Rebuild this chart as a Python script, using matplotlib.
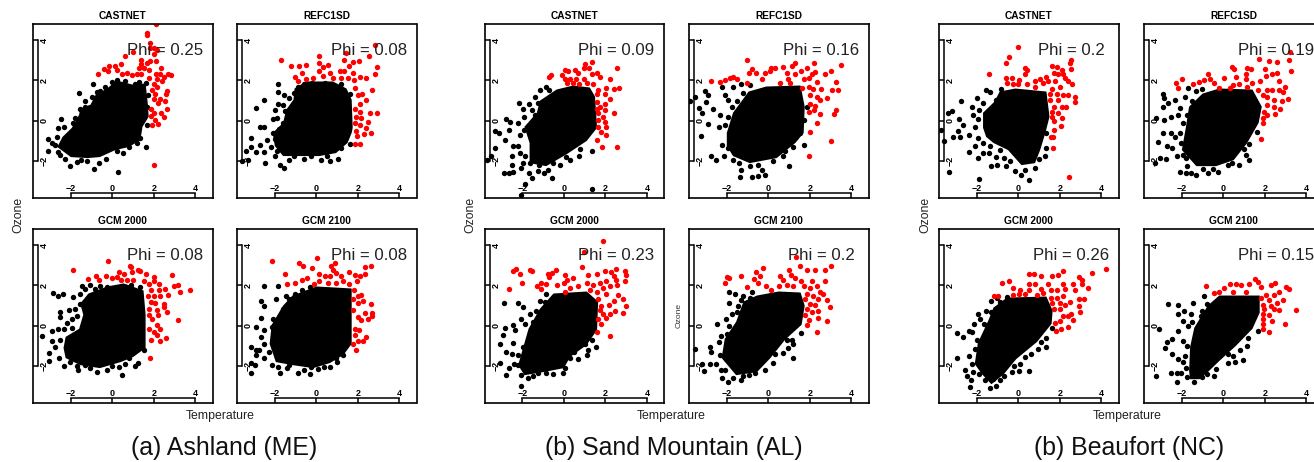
import matplotlib
matplotlib.use('Agg')
import matplotlib.pyplot as plt

plt.rcParams['font.family'] = ['Liberation Sans', 'DejaVu Sans']

W, H = 1314, 462

titles = ['CASTNET', 'REFC1SD', 'GCM 2000', 'GCM 2100']
captions = ['(a) Ashland (ME)', '(b) Sand Mountain (AL)', '(b) Beaufort (NC)']
ticks = [-2, 0, 2, 4]
phi_a = [0.25, 0.08, 0.08, 0.08]
phi_b = [0.09, 0.16, 0.23, 0.2]
phi_c = [0.2, 0.19, 0.26, 0.15]

# points. *_core is the outline of the solid black
# middle of each cloud, where single points can't be told apart any more
a1_red = [(2.1,4.8),(1.65,4.35),(1.67,4.25),(1.8,3.85),(1.8,3.6),(2.0,3.6),(2.15,3.5),(2.0,3.3),(0.6,3.2),(1.0,3.4),(1.4,3.0),(1.65,2.85),(1.8,2.95),(2.1,2.95),(1.4,2.8),(1.27,2.6),(1.5,2.6),(1.75,2.5),(2.35,2.6),(2.7,2.3),(2.8,2.25),(2.1,2.3),(2.3,2.3),(2.5,2.15),(2.15,2.05),(2.4,1.95),(-0.7,2.3),(-0.4,2.55),(-0.15,2.7),(-0.2,2.45),(0.15,2.7),(0.4,2.8),(0.2,2.5),(0.45,2.3),(0.7,2.35),(0.95,2.25),(1.2,2.3),(1.4,2.3),(1.75,2.1),(2.0,1.8),(2.15,1.7),(1.9,1.55),(2.05,1.35),(2.65,1.5),(2.6,1.35),(2,1.1),(2.3,1.1),(2.55,1),(2.2,0.9),(2.65,0.6),(1.85,0.6),(2.35,0.4),(2.5,0.2),(2,0.4),(1.85,0.25),(2.05,0.05),(1.9,-0.2),(2.2,-0.15),(2,-2.2)]
a1_black = [(-1.6,1.4),(-0.95,1.8),(-0.75,1.45),(-0.35,1.7),(0.2,2.0),(-1.55,0.6),(-1.3,0.7),(-2.45,0.1),(-1.8,0.15),(-2.6,-0.35),(-2.35,-0.3),(-3.1,-0.9),(-3.1,-1.5),(-2.65,-0.8),(-2.75,-1.2),(-2.6,-1.55),(-2.05,-2.25),(-1.7,-2.05),(-1.2,-2),(-0.65,-2.1),(-0.9,-2.4),(0.25,-2.55),(0.2,-1.5),(0.8,-1.3),(1.6,-1.3),(1.35,-0.85),(1.65,-0.2),(1.5,0.2),(1.65,0.7),(1.6,1.85),(1.1,1.8),(-2.9,-1.1),(-2.5,-1.7),(-2.3,-1.9),(-1.9,-0.1),(-1.3,1),(-1,1.2),(-0.6,1.5),(0,1.9),(0.6,1.95),(1.3,1.9),(1.7,1.3),(1.2,-1.1),(0.5,-1.6),(-0.3,-1.9),(-1.5,-1.95)]
a1_core = [(-2.65,-1.3),(-2.4,-0.8),(-1.95,-0.35),(-1.6,0.3),(-1.55,0.6),(-1.05,0.8),(-0.8,1.3),(-0.25,1.6),(0.2,2),(0.95,1.8),(1.6,1.85),(1.7,0.9),(1.75,0.2),(1.45,-0.3),(1.35,-0.95),(0.8,-1.3),(0.15,-1.45),(-0.6,-1.8),(-1.2,-1.85),(-2,-1.8)]

a2_red = [(2.8,3.75),(1.45,3.35),(2.55,3.2),(0.15,3.2),(0.15,2.85),(-1.7,3),(-1.2,2.7),(-0.85,2.7),(-0.5,2.75),(0.55,2.75),(1.35,3),(1.75,2.9),(2.05,2.95),(2.9,2.65),(2.8,2.3),(0.3,2.65),(1.55,2.7),(-0.7,2.35),(0.15,2.45),(0.65,2.35),(1.15,2.45),(1.75,2.35),(1.35,2.45),(-1.05,2.15),(-0.5,2.05),(-0.15,2.1),(0.3,2.2),(0.8,2.1),(1.2,2.1),(1.5,2.1),(2.1,2.15),(2.4,2.1),(1.8,2.0),(-0.9,1.95),(1.85,1.65),(2.2,1.35),(2.7,1.55),(2,1.3),(2.4,1.05),(2.1,0.85),(1.85,0.6),(2.1,0.45),(2.6,0.4),(2.9,0.4),(1.9,0.2),(2.15,0.15),(2.5,-0.05),(1.85,-0.1),(2.1,-0.2),(2.4,-0.35),(1.9,-0.5),(2.3,-0.65),(2.65,-0.6),(1.95,-0.75),(1.85,-1.15),(2.1,-1.15)]
a2_black = [(-1.85,1.8),(-1.85,1.45),(-1.55,1.3),(-1.1,1.4),(-2.5,1.05),(-2.9,0.65),(-1.85,0.85),(-2,0.55),(-1.9,0.15),(-1.6,-0.1),(-2.7,-0.3),(-2.5,-0.3),(-3.15,-0.85),(-2.1,-0.6),(-2.4,-0.95),(-2.7,-1.2),(-3.15,-1.3),(-3.4,-1.5),(-2.9,-1.55),(-2.5,-1.55),(-3.6,-2),(-3.3,-1.95),(-2.45,-2.1),(-1.75,-2.2),(-1.55,-2.35),(-2,-1.75),(-1.1,-1.75),(-0.25,-1.75),(0.2,-1.95),(0.65,-2),(1.05,-1.9),(1.6,-1.15),(1.45,-0.8),(-2.1,0.1),(-1.8,-0.4),(-2,-0.9),(-1.7,-1.1),(-2.2,-1.3),(-1.9,-1.5),(-1.6,-1.5),(-1.5,0.5),(-1.6,0.8),(-1.3,1.15),(-0.9,1.7),(-0.6,1.8),(-0.2,1.85),(0.4,1.85),(1.2,1.8),(1.6,1.35),(1.2,-1.35),(0.5,-1.75),(-0.6,-1.9),(-1.3,-1.95)]
a2_core = [(1.75,-0.35),(1.7,1.05),(1.45,1.6),(0.8,1.95),(-0.5,1.95),(-1.05,1.6),(-1.1,1.05),(-1.45,0.55),(-1.6,-0.1),(-2.1,-0.6),(-2,-1.25),(-1.6,-1.75),(-0.8,-1.75),(0.15,-1.75),(0.95,-1.6),(1.5,-1.1),(1.7,-0.6)]

a3_red = [(-0.2,3.2),(-1.9,2.75),(-1.15,2.3),(-0.8,2.45),(-0.65,2.25),(-0.3,2.45),(0,2.35),(0.2,2.4),(0.3,2.65),(0.55,2.55),(0.85,2.95),(0.9,2.9),(0.95,2.65),(1.25,2.75),(1.35,2.7),(1.6,2.55),(2,2.4),(2.85,2.5),(0.4,2.25),(0.7,2.25),(1,2.25),(1.5,2.2),(1.75,2.05),(2,2.2),(2.25,2.05),(2.95,1.95),(3.15,2),(3.25,1.7),(3.75,1.75),(2.55,1.8),(2.7,1.55),(2.25,1.75),(1.85,1.75),(1.7,1.5),(2,1.5),(2.3,1.5),(1.85,1.2),(2.05,1.15),(2.5,1.1),(1.75,0.85),(2.5,0.95),(2.15,0.8),(2.65,0.7),(1.75,0.55),(1.9,0.35),(2.2,0.55),(3.15,0.3),(2.15,0.05),(2.3,-0.15),(1.75,-0.15),(2,-0.3),(2.15,-0.45),(2.3,-0.75),(2.6,-0.6),(1.85,-0.7),(1.8,-1.6)]
a3_black = [(-2.85,1.65),(-2.6,1.5),(-2.4,1.6),(-1.9,1.45),(-1.45,1.95),(-1.1,2),(-1.55,1.6),(-2.5,0.7),(-2.5,0.45),(-2.1,0.8),(-1.8,0.85),(-1.95,0.35),(-2.9,-0.25),(-2.6,-0.15),(-2.35,-0.15),(-3.4,-0.5),(-2.9,-0.75),(-2.5,-0.7),(-2.75,-1.05),(-3.05,-1.35),(-3.05,-1.75),(-2.55,-1.6),(-2.35,-2),(-2.05,-1.8),(-1.65,-2.2),(-1.3,-1.95),(-0.75,-2.3),(-0.25,-2.2),(0.3,-2.05),(0.45,-2.45),(1.1,-2),(1.25,-1.85),(0.8,-1.6),(1.5,-1.2),(-0.6,1.95),(-0.25,1.9),(-1.55,1.1),(-1.2,1.25),(-1.7,0.5),(-1.95,-0.1),(-2.2,0.15),(-1.3,1.8),(-0.85,1.8),(0.9,2),(1.35,1.9),(-1.7,-2),(-1.1,-2.1),(0,-2),(0.6,-1.9)]
a3_core = [(-2.35,-1.1),(-2.25,-0.55),(-1.6,-0.15),(-1.4,0.55),(-1.55,1.1),(-1.15,1.6),(-0.25,1.95),(0.55,2.1),(1.5,1.75),(1.6,0.55),(1.6,-1.1),(1,-1.55),(0.4,-1.8),(-0.6,-2.1),(-1.55,-1.95),(-2.25,-1.6)]

a4_red = [(-2.15,3.2),(0.05,3.35),(-0.85,3.1),(-0.65,2.95),(-0.2,2.85),(0.7,2.95),(0.9,3.1),(0.8,2.75),(2.35,2.9),(2.65,2.95),(-1.5,2.55),(-1.4,2.05),(-1.05,2.1),(-0.7,2.25),(-0.45,2.35),(0.15,2.55),(0.4,2.45),(0.65,2.45),(0.95,2.6),(1.2,2.45),(1.55,2.65),(1.85,2.5),(2.1,2.45),(2.35,2.55),(-0.1,2.05),(0.15,2.2),(0.55,2.1),(0.95,2.1),(1.3,2.2),(1.55,2.05),(1.95,2.2),(1.8,1.75),(2,1.5),(2.15,1.55),(1.75,1.35),(2,1.15),(2.65,1.1),(2.25,1.25),(1.75,0.8),(2.35,0.65),(2.7,0.65),(2.7,0.5),(2,0.45),(2.15,0.3),(2.5,0.35),(1.85,-0.15),(2.05,-0.2),(1.85,-0.45),(2.4,-0.55),(2,-0.75),(2.25,-0.75),(1.75,-0.9),(1.9,-1.2)]
a4_black = [(-2.5,1.95),(-2.65,1.25),(-2.5,1),(-1.95,1.35),(-1.85,1.95),(-1.45,1.5),(-2.65,0.4),(-2.1,0.35),(-2.15,-0.05),(-2.9,-0.05),(-2.5,-0.2),(-2.65,-0.55),(-2.5,-0.9),(-3.15,-1.05),(-2.9,-1.2),(-2.75,-1.2),(-2.9,-1.45),(-2.5,-1.6),(-3.15,-1.85),(-2.95,-1.95),(-3.15,-2.35),(-2.15,-1.95),(-1.75,-2.35),(-1.85,-2.05),(-1.3,-1.95),(-0.9,-2.35),(-0.3,-2.4),(0.1,-2.15),(-0.25,-2.05),(0.65,-2.05),(0.95,-1.6),(1.3,-1.45),(-1.75,-1.05),(-1.6,0.85),(-1.3,1.35),(-1.05,1.6),(-2,-0.45),(-2,-0.9),(-1.7,-1.45),(-0.7,1.75),(-0.3,1.9),(-2.3,-1.3),(-1.4,-2.1),(-0.6,-2.2),(0.35,-2.05),(1,-1.8)]
a4_core = [(-2.25,-0.9),(-2.15,0.05),(-1.6,1),(-1.15,1.5),(0,1.95),(1.7,1.85),(1.7,-0.9),(1.3,-1.45),(0.65,-1.85),(-0.15,-2.1),(-1.15,-1.95),(-1.95,-1.8)]

b1_red = [(1.35,2.9),(1,2.8),(0.95,2.6),(1.2,2.6),(2.55,2.6),(0.05,2.5),(0.2,2.45),(0.55,2.5),(0.7,2.35),(1.35,2.3),(1.6,2.35),(-0.7,2.15),(-0.6,2.25),(-0.1,2.25),(0.05,2.05),(0.3,2.05),(0.6,2.05),(0.95,2.05),(1.75,2.15),(2.2,2.05),(0.15,1.85),(0.45,1.85),(0.75,1.8),(1.1,1.85),(1.4,1.8),(2.65,1.65),(2.4,1.6),(2.05,1.65),(1.65,1.55),(2,1.35),(1.6,1.35),(2.2,1.1),(1.6,0.95),(2,0.85),(1.75,0.7),(1.6,0.6),(2,0.55),(1.65,0.4),(2.4,0.4),(1.9,0.2),(1.65,0.05),(2,-0.05),(1.65,-0.3),(2.05,-0.3),(1.8,-0.55),(2.05,-0.7),(1.6,-0.95),(1.85,-1.3),(2.55,-1.3)]
b1_black = [(-0.85,1.7),(-1.15,1.55),(-0.7,1.55),(-1.4,1.2),(-2.15,0.9),(-1.7,0.85),(-1.95,0.6),(-1.55,0.55),(-2.8,0.1),(-2.6,-0.05),(-3.3,-0.5),(-3.1,-0.6),(-2.65,-0.45),(-2.2,-0.1),(-2.85,-0.95),(-3.3,-1.35),(-3.5,-1.75),(-3.7,-1.95),(-2.45,-1.25),(-2.5,-1.75),(-2.2,-1.25),(-2.9,-2.6),(-2.65,-2.6),(-2.45,-2.55),(-2.5,-2.2),(-2.05,-2.35),(-1.7,-2.6),(-1.55,-2.85),(-1.85,-3.15),(-2.05,-3.7),(1.35,-3.4),(-1.25,-2.5),(-0.95,-2.6),(-0.75,-2.45),(-0.55,-2.85),(-0.2,-2.2),(0.3,-1.95),(0.75,-1.75),(1.35,-1.5),(-1.85,-1.75),(-1.65,-2.1),(-2.1,-0.7),(-1.9,-0.45),(-1.4,0.3),(-2.1,-1.6),(-1.95,-2.1),(-1.2,-2.2),(-0.5,-2.1),(0.1,-1.8),(0.8,-1.4),(-1.9,0.2),(-1.25,0.9)]
b1_core = [(-1.65,-1.1),(-1.9,-0.3),(-1.3,0.4),(-1.15,1),(-0.35,1.55),(0.45,1.75),(1.25,1.65),(1.5,1.2),(1.6,-0.35),(1.1,-1),(0.15,-1.65),(-0.85,-2.25),(-1.65,-2.1)]

b2_red = [(-1.05,3),(3.5,2.75),(2.2,2.85),(1.3,2.85),(1.15,2.7),(0.7,2.65),(1.55,2.45),(1.85,2.6),(2.25,2.4),(2.75,2.3),(3,2.45),(-0.8,2.55),(-0.95,2.35),(-0.6,2.35),(-0.15,2.35),(0.15,2.6),(0.3,2.6),(0.1,2.45),(0.9,2.35),(1.3,2.3),(1.95,2.1),(2.1,2.3),(-2.75,1.95),(-2.35,1.9),(-2.1,2),(-1.85,2.1),(-1.7,2.15),(-1.5,2.05),(-1.05,1.85),(-0.3,2.05),(3.25,1.9),(0.55,1.85),(0.95,2.05),(1.05,1.85),(1.7,2.05),(2.35,1.9),(1.6,1.65),(1.95,1.7),(2.15,1.6),(2.55,1.6),(3.05,1.55),(3.35,1.55),(2,1.3),(2.35,1.2),(2.8,1.15),(2.5,1.05),(2,0.85),(2.25,0.75),(3.25,0.55),(1.95,0.45),(2.2,0.55),(2.5,0.35),(3.15,0.35),(2.35,-0.1),(2,-0.55),(3,-1),(1.95,-1.75)]
b2_black = [(-3.75,1),(-3.55,1.2),(-3.05,1.5),(-2.9,1.3),(-3,0.95),(-3.35,0.65),(-3.2,0.4),(-2.65,0.6),(-2.25,1.7),(-2.1,1.3),(-1.95,1.05),(-1.7,1.7),(-1.3,1.8),(-0.9,1.75),(-2.35,0.3),(-2.9,-0.15),(-2.4,-0.3),(-1.95,0.2),(-3.25,-0.75),(-2.75,-1.75),(-2.5,-1.95),(-2.15,-1.75),(-2.25,-1.2),(-1.85,-0.6),(-1.95,-1.35),(-1.7,-1.95),(-1.35,-2.8),(-0.8,-2.8),(-0.5,-2.75),(-0.15,-2.7),(-1.3,-2.45),(-0.9,-2.25),(-0.3,-2.45),(1,-2.25),(0.7,-1.75),(1.7,-1.2),(1.2,-1.3),(1.5,-0.6),(1.7,0.05),(1.85,0.7),(-1.5,1),(-1.2,1.4),(-1.75,0.7),(-1.4,-2.1),(-0.5,-2.2),(0.2,-2),(0.8,-1.5),(-2.1,-0.2)]
b2_core = [(-2,-0.6),(-1.7,0.4),(-0.95,1.45),(-0.1,1.7),(1.55,1.75),(1.75,0.7),(1.7,-0.6),(1.3,-1.1),(0.4,-1.85),(-0.9,-2.1),(-1.7,-1.75),(-2,-1.25)]

b3_red = [(1.9,4.2),(0.95,3.65),(0.85,2.9),(-2.45,2.7),(-2.3,2.8),(-2.1,2.55),(-1.65,2.75),(-1.55,2.7),(-2,2.1),(-2.65,1.8),(-0.75,2.55),(-0.7,2.4),(-0.55,2.6),(-0.4,2.75),(0.05,2.5),(0.15,2.25),(0.45,2.35),(-1.1,2.1),(-1.3,1.95),(-0.85,2.05),(-1.1,1.8),(-0.35,2),(0,2.1),(0.3,1.85),(0.05,1.7),(0.7,1.95),(1.15,2.5),(1.6,2.55),(2,2.7),(2.25,2.65),(2.5,2.8),(2.95,2.7),(3,2.5),(2.4,2.45),(1.1,2.1),(1.4,2),(1.75,2.1),(2.05,2.2),(2.5,2.25),(2.95,2.2),(1.9,1.85),(2.2,1.95),(2.55,2),(1.25,1.75),(1.6,1.7),(2.05,1.6),(2.6,1.55),(2.85,1.35),(1.65,1.35),(2.4,1.25),(1.8,1),(2.15,1.05),(3,1),(1.75,0.8),(2.45,0.75),(2.85,0.65),(1.9,0.6),(2.2,0.6),(1.65,0.35),(2.05,0.4),(1.8,0.1),(1.6,-0.3),(2.2,-0.5)]
b3_black = [(-2.9,1.15),(-2.2,1.15),(-1.95,0.95),(-1.65,0.6),(-1.15,1.25),(-0.85,1.6),(-2.05,0.35),(-2.45,0.05),(-2.85,-0.1),(-2.95,-0.45),(-2.35,-0.2),(-3.05,-0.9),(-2.45,-0.85),(-2.8,-1.3),(-2.5,-1.4),(-3.05,-1.85),(-2.65,-2.1),(-2.8,-2.45),(-2.2,-1.95),(-2.05,-2.45),(-1.75,-2.6),(-2.05,-3),(-1.25,-2.35),(-0.85,-2.35),(-0.05,-2.35),(0.05,-2.1),(0.3,-1.6),(0.7,-1.65),(1.1,-1.45),(1.15,-1.2),(1.55,-1.05),(1,-0.9),(-1.95,-1.05),(-2.2,-1.45),(-1.85,0.1),(-1.5,0.2),(-1.35,0.75),(-0.9,1.2),(-2.4,-1.9),(-1.5,-2.5),(-0.5,-2.4),(0.5,-1.3),(1.35,-0.7)]
b3_core = [(-2.2,-1.95),(-1.95,-1.05),(-1.7,-0.15),(-1.15,0.85),(-0.5,1.6),(1.1,1.7),(1.65,1.2),(1.6,-0.2),(1.1,-0.95),(0.3,-1.55),(0,-2.1),(-1,-2.3),(-1.9,-2.45)]

b4_red = [(1.35,3.4),(1.5,2.95),(3,2.95),(-0.25,2.85),(1,2.75),(1.85,2.75),(2.25,2.75),(2.75,2.75),(-0.6,2.65),(-0.4,2.45),(-1.3,2.45),(-2,2.4),(-1.9,2.35),(-2.1,2.1),(-0.7,2.3),(-0.5,2.1),(-1.05,1.9),(-0.1,1.95),(0.15,1.75),(0.55,2.45),(1.1,2.5),(1.3,2.35),(0.7,2.25),(1.55,2.2),(2.1,2.2),(2.75,2.2),(0.5,1.95),(0.9,2),(1.2,1.95),(1.7,1.95),(2,1.85),(2.35,1.95),(2.5,1.7),(2.65,1.6),(1.85,1.6),(2.15,1.5),(2.8,1.3),(2.4,1.35),(1.75,1.35),(2,1.1),(2.25,1.05),(2.95,0.95),(1.85,0.85),(2.4,0.75),(2.1,0.7),(2.4,0.4),(1.75,0.55),(1.95,0.3),(2.8,0.25),(1.85,0.05),(2.35,-0.3)]
b4_black = [(-1.9,1.7),(-1.6,1.6),(-1.2,1.5),(-0.8,1.7),(-1.9,1.15),(-1.45,1),(-1.75,0.6),(-2.45,0.1),(-2.05,0.35),(-2,-0.4),(-2.4,-0.8),(-2.8,-1.05),(-3.55,-1.15),(-2.75,-1.3),(-2.8,-1.9),(-3.1,-2.25),(-3.2,-1.9),(-2.35,-1.45),(-2.1,-2.2),(-2.25,-2.6),(-1.95,-2.8),(-1.7,-2.6),(-1.3,-2.7),(-0.95,-2.45),(-0.65,-2.35),(-0.15,-2.2),(0.2,-1.85),(1.2,-1.6),(0.95,-1.1),(1.2,-0.9),(1.55,-0.35),(1.15,-0.7),(0.7,-1.35),(-1.5,0.7),(-1.3,1.3),(-0.9,1.4),(-1.9,0),(-2.3,-0.5),(-2.5,-1.9),(-2.3,-2.2),(-1.2,-2.5),(0.3,-1.4),(0.9,-0.7)]
b4_core = [(-2.25,-1.6),(-2.1,-0.65),(-1.55,0.2),(-1.2,1.2),(-0.55,1.5),(0.5,1.7),(1.55,1.65),(1.75,1),(1.6,0.05),(0.8,-0.7),(0.1,-1.6),(-0.55,-2.3),(-1.55,-2.45)]

c1_red = [(0,3.65),(-0.45,3.15),(-0.6,2.85),(-1.4,2.3),(2.55,3),(2.5,2.85),(2.55,2.55),(0.3,2.6),(0.4,2.5),(0.3,2.3),(1.6,2.7),(1.85,2.65),(2.1,2.5),(1.7,2.35),(1.9,2.3),(2.15,2.3),(2.25,2.1),(-0.6,2.1),(-0.3,2.1),(0.05,2),(-0.55,1.85),(-0.25,1.8),(0,1.8),(0.4,1.8),(0.8,1.95),(1.05,2.05),(1.35,2.15),(0.8,1.7),(1.2,1.85),(1.45,1.95),(1.75,1.95),(2.4,1.95),(2.6,1.8),(1.6,1.6),(2,1.7),(1.5,1.35),(1.85,1.35),(2.4,1.3),(2.15,1.3),(2.75,1.2),(2.75,0.95),(1.5,1.05),(1.9,1.05),(1.7,0.7),(2.1,0.7),(2.3,0.7),(1.6,0.45),(1.9,0.4),(1.6,0.2),(2.1,0.15),(1.7,0),(2.05,-0.25),(1.7,-0.45),(1.55,-0.8),(1.65,-0.8),(1.65,-1.35),(2.45,-2.8)]
c1_black = [(-1.55,1.55),(-1.35,1.45),(-0.85,1.6),(-2.75,1),(-2,1.15),(-1.1,1.05),(-1.7,0.9),(-2.25,0.7),(-3.2,0.5),(-3.4,0.4),(-2.2,0.3),(-2.85,0.1),(-3.7,-0.45),(-2.65,-0.2),(-2.9,-0.5),(-3.15,-0.8),(-2.8,-0.8),(-3.6,-1),(-2.4,-0.7),(-1.95,-0.85),(-2.1,-1.25),(-2.4,-1.55),(-1.95,-1.85),(-1.7,-1.6),(-1.3,-2.25),(-1.05,-2.2),(-3.35,-2.55),(-1.9,-2.9),(-0.6,-2.25),(-0.15,-2.5),(0.15,-2.7),(0.5,-2.95),(0.8,-2.35),(0.3,-2.45),(1.3,-1.75),(1.35,-1.35),(-1.35,-1.25),(-0.9,-1.45),(1.35,-0.6),(-1.9,0.55),(-1.95,0.1),(-2.1,-0.3),(-1.7,-1.1),(-1.4,-1.6),(-1.1,-1.8),(-0.7,-1.85),(-0.4,-2),(1,-1.9)]
c1_core = [(-1.7,-0.35),(-1.7,0.4),(-1.15,0.95),(-0.9,1.45),(-0.15,1.6),(1.35,1.45),(1.5,0.2),(1.3,-0.6),(1.05,-1.45),(0.8,-2.1),(0.15,-2.2),(-0.5,-1.45),(-1.2,-1.1),(-1.55,-0.8)]

c2_red = [(3.2,3.4),(3.15,3),(1.7,3.05),(2.2,2.95),(2.6,2.9),(3.25,2.45),(0.4,2.65),(0.5,2.55),(1.15,2.6),(1.35,2.55),(2,2.55),(-0.75,2.3),(1.1,2.3),(2.05,2.2),(2.35,2.3),(2.6,2.35),(-0.65,2.05),(-2,2.05),(-2.3,1.85),(-2.2,1.65),(-1.45,1.8),(-1.15,1.9),(-0.95,2),(-0.45,1.85),(0.05,2.1),(0.6,2.15),(-0.2,1.65),(0.3,1.65),(0.45,1.75),(0.75,1.8),(1.1,2.05),(1.15,1.7),(1.4,1.85),(1.75,1.95),(1.65,1.55),(2.7,1.95),(2.95,1.7),(2.1,1.55),(2.35,1.55),(2.7,1.55),(2.85,1.45),(1.9,1.3),(2.1,1.2),(3.1,1.1),(2.45,1.05),(2.8,1),(2.1,0.8),(2.45,0.7),(2.75,0.6),(2.5,0.35),(1.95,0.45),(2.1,0.3),(1.9,0.15),(1.9,-0.1),(1.8,-0.9)]
c2_black = [(-2.9,1.35),(-2.85,1.15),(-2.35,1.05),(-2.65,0.9),(-2.9,0.7),(-1.85,1.2),(-1.7,1.65),(-1.05,1.6),(-2.2,0.3),(-2.5,0.2),(-2.85,0.05),(-3.25,0.15),(-2.1,0.65),(-2.9,-0.6),(-2.5,-0.6),(-2.35,-0.8),(-3.15,-1.05),(-2.7,-1.25),(-2.45,-1.35),(-2.05,-1.1),(-3.05,-1.85),(-2.75,-1.9),(-3.3,-2.1),(-2.25,-1.75),(-1.8,-1.85),(-1.75,-2.25),(-2.1,-2.55),(-1.8,-2.6),(-1.55,-2.6),(-1.3,-2.7),(-0.75,-2.6),(-0.25,-2.55),(0.2,-2.2),(0.75,-2.2),(1.25,-1.95),(1.1,-1.7),(1.25,-1.15),(1.6,-0.55),(-1.95,-0.1),(-1.75,0.3),(-1.5,1),(-1.3,1.5),(-2.1,-0.6),(-1.95,-1.7),(-1,-2.4),(-0.5,-2.4),(0.4,-2.1),(1,-1.4)]
c2_core = [(-2,-1.45),(-1.8,-0.3),(-1.65,0.7),(-1,1.35),(-0.2,1.6),(1.4,1.55),(1.85,0.7),(1.7,-0.1),(1.15,-1.1),(0.5,-1.95),(-0.35,-2.25),(-1.3,-2.25)]

c3_red = [(4.2,2.8),(3.55,2.6),(2.15,2.7),(1.9,2.5),(1.6,2.45),(0.5,2.55),(0.75,2.55),(1.1,2.45),(2.9,2.4),(3.05,2.25),(-0.8,2.1),(-0.45,2.2),(-1.15,1.5),(-1,1.5),(-0.25,1.85),(0.1,1.75),(0.5,2.05),(0.8,2.05),(0.5,1.75),(1.1,1.8),(1.45,2.05),(2.15,2.05),(2.65,2.05),(3.05,2.05),(3.35,1.85),(0.9,1.55),(1.2,1.65),(1.55,1.75),(1.85,1.75),(2.25,1.8),(2.75,1.75),(-0.25,1.55),(0.05,1.6),(0.3,1.6),(1.55,1.4),(1.85,1.4),(2.15,1.5),(2.9,1.35),(3.15,1.35),(2.5,1.2),(1.6,1.15),(2,1.15),(2.25,1.05),(2.9,1),(1.7,0.85),(2,0.85),(2.95,0.7),(2.55,0.6),(2.15,0.5),(2.4,0.5),(2,0.25),(2.65,0.3),(1.75,0.15),(2.4,-0.05),(2.05,-0.15),(1.8,-0.25)]
c3_black = [(-1.05,1.4),(-0.55,1.45),(-1.3,1.25),(-1.95,0.6),(-1.55,0.75),(-2.15,0.1),(-1.85,0.35),(-2.4,-0.25),(-2.95,-0.35),(-2.65,-0.55),(-2.25,-0.3),(-2,-0.7),(-2.1,-1.15),(-2.95,-1.6),(-2.4,-1.5),(-2.25,-1.9),(-2.55,-2.2),(-2.45,-2.5),(-2.3,-2.7),(-2.35,-3.05),(-1.9,-2.4),(-1.85,-2),(-1.35,-3.1),(-1.1,-3),(-1.2,-2.65),(-0.7,-2.5),(-0.3,-2.3),(0.05,-2.25),(0.5,-2.25),(-0.2,-2),(0.3,-1.55),(0.95,-1.15),(1.35,-1.05),(1.35,-0.6),(1.6,-0.1),(-1.65,0.1),(-1.3,0.7),(-0.9,1.2),(-2.2,-2.3),(-1.6,-2.7),(-0.9,-2.7),(0.1,-1.9),(0.6,-1.4),(1.1,-0.8)]
c3_core = [(-2.1,-1.9),(-1.95,-0.85),(-1.45,0.25),(-1.2,0.9),(-0.55,1.4),(1.35,1.45),(1.65,0.75),(1.6,0.1),(0.9,-0.8),(-0.1,-1.65),(-0.7,-2.4),(-1.3,-2.9),(-1.75,-2.4)]

c4_red = [(-0.85,1.95),(1.5,2.3),(1.65,2.15),(2.5,2.1),(2.3,2),(-0.45,1.65),(-0.2,1.7),(0.05,1.85),(0.3,2.05),(0.6,2.05),(0.85,2),(1.25,2.05),(1.8,1.9),(3,1.9),(3.15,1.8),(2.7,1.7),(0.45,1.7),(1.1,1.7),(2.05,1.55),(2.45,1.55),(1.8,1.4),(2.2,1.3),(2.85,1.3),(2.6,1.15),(1.9,1.05),(2.3,1),(2.45,0.85),(2.7,0.8),(3.5,0.8),(1.95,0.85),(1.9,0.6),(2.2,0.55),(1.9,0.35),(2.35,0.25),(2.95,0.1),(1.9,0.1),(1.9,-0.15),(2.2,-0.3)]
c4_black = [(-0.95,1.5),(-2.65,1.1),(-2.2,1.05),(-1.45,1.15),(-1.9,0.75),(-2.2,0.6),(-1.55,0.6),(-1.95,0.25),(-1.05,0.75),(-1.7,0),(-3.1,-0.15),(-2.2,-0.25),(-2.45,-0.65),(-1.95,-0.75),(-2.7,-0.8),(-2.8,-1.1),(-2.45,-1.4),(-2.2,-1.65),(-1.85,-1.5),(-1.95,-1.8),(-2.5,-2.35),(-3.25,-2.5),(-2.25,-2.35),(-2.05,-2.35),(-2.25,-2.8),(-1.75,-2.55),(-1.4,-2.8),(-1.05,-2.55),(-0.45,-2.5),(-0.35,-2.15),(0.2,-1.85),(0.55,-1.8),(0.95,-1.7),(1.15,-1),(1.65,-0.25),(0.45,-1.5),(-1.5,0.2),(-1.1,0.5),(-0.8,1.1),(-1.75,-1),(-1.8,-2.1),(-0.8,-2.4),(0.2,-1.4),(0.8,-1.2),(1.2,-0.6)]
c4_core = [(-1.65,-2.25),(-1.6,-1.05),(-1.4,-0.1),(-0.75,1),(-0.2,1.5),(1.75,1.5),(1.75,0.65),(1.4,-0.15),(0.6,-1),(-0.2,-1.75),(-0.7,-2.25),(-1.15,-2.65),(-1.6,-2.65)]

lefts = [33, 237, 484.5, 689, 939, 1144]
tops = [24, 229]
PW, PH = 179.5, 174

groups = [
    (lefts[0], lefts[1], phi_a, [(a1_black, a1_red, a1_core), (a2_black, a2_red, a2_core), (a3_black, a3_red, a3_core), (a4_black, a4_red, a4_core)]),
    (lefts[2], lefts[3], phi_b, [(b1_black, b1_red, b1_core), (b2_black, b2_red, b2_core), (b3_black, b3_red, b3_core), (b4_black, b4_red, b4_core)]),
    (lefts[4], lefts[5], phi_c, [(c1_black, c1_red, c1_core), (c2_black, c2_red, c2_core), (c3_black, c3_red, c3_core), (c4_black, c4_red, c4_core)]),
]


def panel(fig, left, top, title, phi, black, red, core):
    ax = fig.add_axes([left / W, 1 - (top + PH) / H, PW / W, PH / H])
    ax.fill(*zip(*core), color='black', lw=0)
    ax.scatter(*zip(*black), s=15, color='black', lw=0)
    ax.scatter(*zip(*red), s=15, color='#ff0000', lw=0)
    ax.set_xlim(-3.82, 4.82)
    ax.set_ylim(-3.83, 4.8)
    ax.set_xticks(ticks)
    ax.set_yticks(ticks)
    ax.tick_params(axis='x', direction='in', length=3.6, width=1.1, pad=-10)
    ax.tick_params(axis='y', direction='in', length=3.6, width=1.1, pad=-11.5, labelrotation=90)
    for lab in ax.get_xticklabels() + ax.get_yticklabels():
        lab.set_fontsize(6.5)
        lab.set_fontweight('bold')
    for lab in ax.get_yticklabels():
        lab.set_verticalalignment('center')
    for s in ax.spines.values():
        s.set_linewidth(1.2)
    # R style axis lines sit just inside the box
    ax.plot(ticks[::3], [0.029, 0.029], transform=ax.get_xaxis_transform(), color='black', lw=1.1)
    ax.plot([0.029, 0.029], ticks[::3], transform=ax.get_yaxis_transform(), color='black', lw=1.1)
    ax.set_title(title, fontsize=7.3, fontweight='bold', pad=3.5)
    ax.text(2.53, 3.47, f'Phi = {phi}', fontsize=12.1, ha='center', va='center', color='#222222')
    return ax


fig = plt.figure(figsize=(W / 100, H / 100), dpi=100)

for x1, x2, phis, data in groups:
    spots = [(x1, tops[0]), (x2, tops[0]), (x1, tops[1]), (x2, tops[1])]
    for (l, t), name, phi, (black, red, core) in zip(spots, titles, phis, data):
        panel(fig, l, t, name, phi, black, red, core)

for x, y, txt in [(18, 215, 'Ozone'), (470, 215, 'Ozone'), (925, 215, 'Ozone')]:
    fig.text(x / W, 1 - y / H, txt, rotation=90, fontsize=8.8, ha='center', va='center', color='#222222')
for x, txt in [(220, 'Temperature'), (671, 'Temperature'), (1127, 'Temperature')]:
    fig.text(x / W, 1 - 416.5 / H, txt, fontsize=8.8, ha='center', va='center', color='#222222')
fig.text(679 / W, 1 - 315 / H, 'Ozone', rotation=90, fontsize=6.1, ha='center', va='center', color='#333333')
for x, txt in zip([224, 674, 1129], captions):
    fig.text(x / W, 1 - 448 / H, txt, fontsize=17.9, ha='center', va='center', color='#111111')

plt.savefig('out.png', dpi=100)
